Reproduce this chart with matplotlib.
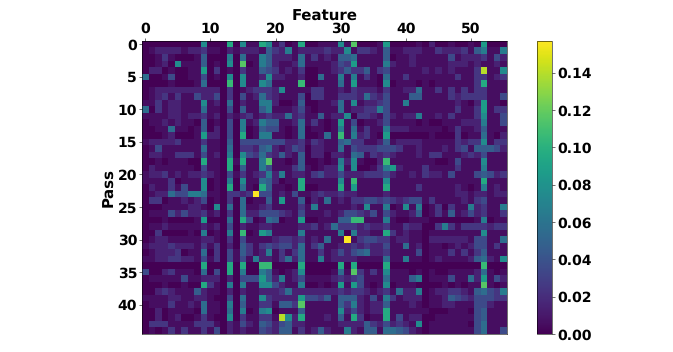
import numpy as np
import matplotlib
matplotlib.use('Agg')
import matplotlib.pyplot as plt

# one string per pass, one character per feature (base 17 index into level_values)
pass_rows = [
    "0000000008" "000a0811a8" "1301a00111" "81c0001900" "0010200100" "109000",
    "0122221223" "1102122215" "3271222232" "2813321511" "2221132223" "157117",
    "0013100015" "0007061175" "2221613121" "5561111501" "1211111412" "223142",
    "0012081115" "01080c0175" "2112611112" "4391111721" "1211111222" "121121",
    "0220100119" "0301031154" "3121300112" "3533513411" "1112121211" "13e118",
    "6001400114" "0108081128" "2211200611" "7171310611" "3111111131" "133123",
    "0000100016" "000b081186" "1111b00111" "6191110801" "1101011111" "13a111",
    "0122222222" "2203012333" "2811113311" "2132221311" "2261131313" "133111",
    "0123131142" "2403041263" "2111403311" "3332632411" "1551111323" "333114",
    "1131221118" "1206021177" "2001500112" "6181223411" "7111111121" "029110",
    "6031221116" "1104051157" "1112410111" "6122337411" "1111111131" "139133",
    "1111221223" "1202123123" "2262311512" "2803321421" "2271121311" "138114",
    "0112121105" "0104071275" "5112613101" "9140112411" "1101001112" "227114",
    "0011611015" "0204070154" "4101601101" "7161311722" "2111110131" "125111",
    "0001200019" "22040a0177" "1101600161" "b172310900" "0000100030" "116102",
    "1222231113" "1105044444" "4422313211" "5633112512" "2221111132" "338133",
    "0141111116" "1106033256" "2124302211" "6143334443" "1121112134" "155542",
    "0221133314" "1207084363" "2521502202" "2165132321" "1121331112" "324111",
    "001011100a" "110a1a117c" "1101500101" "7281002b11" "1111100141" "118111",
    "0211111104" "110a051174" "1113510122" "8180013792" "1113111131" "117111",
    "1223121223" "2104131237" "2712213422" "4222333421" "1213221411" "145423",
    "1111301118" "0107081165" "2011a11111" "81b1111811" "1111111111" "11a111",
    "0211314118" "010a0610a5" "1101a00111" "a191111a11" "1131111121" "017121",
    "0122644776" "1103323g44" "1214112322" "3221111211" "1111111122" "122122",
    "0330112124" "0103060115" "1911502161" "2133443432" "3441311112" "134111",
    "0001111221" "0806061123" "1111317111" "1121811701" "8170130311" "723117",
    "0111424223" "1203062244" "4321411121" "2443241421" "1250131512" "423113",
    "0001000019" "00060a4016" "5011900111" "55bb111710" "0111000000" "017011",
    "0112111112" "1204021122" "1111223126" "3332322311" "3220037313" "333233",
    "0030000107" "01070b0197" "1111711111" "7072211a31" "2110111111" "118111",
    "0122111112" "2103041111" "2332312161" "1g13443312" "2110222222" "144116",
    "1222322213" "1302053134" "3442613511" "2232322411" "6120110121" "244131",
    "0122230116" "0304153127" "1313611312" "4245622311" "1140111313" "135111",
    "1122332214" "1304141722" "1362611712" "2221111611" "7110121111" "256218",
    "000000000a" "000a0a00bb" "0000a00000" "a0a0000a00" "0000000000" "00b000",
    "4002311106" "040a070075" "1012800001" "61c3131811" "1010100111" "126101",
    "0111114112" "2202044495" "2712411112" "3234111611" "1570111411" "629142",
    "000100100a" "3107071188" "4211700101" "9194101801" "1100001010" "11c101",
    "0023211152" "1102021122" "2362222222" "3233212316" "2270122332" "156437",
    "1111221122" "1004061183" "2222944351" "5552141731" "2220112543" "244433",
    "0111311216" "1107051133" "1553c11111" "5372122511" "1210112211" "144211",
    "0020111106" "1106070178" "0111511111" "8242122a11" "1111000111" "045111",
    "0020120013" "1008031133" "1e82a11121" "51a3011a14" "1220011111" "145111",
    "0333111133" "3102142154" "2452211111" "2222532423" "2180111111" "046111",
    "0101313113" "1402121143" "2551312521" "1721551665" "4210111111" "146114",
]
level_values = [0.0, 0.006, 0.015, 0.025, 0.035, 0.046, 0.056, 0.066, 0.076,
                0.086, 0.096, 0.106, 0.116, 0.126, 0.14, 0.15, 0.157]
x_ticks = [0, 10, 20, 30, 40, 50]
y_ticks = [0, 5, 10, 15, 20, 25, 30, 35, 40]
cbar_ticks = [0.00, 0.02, 0.04, 0.06, 0.08, 0.10, 0.12, 0.14]
cbar_labels = ['0.00', '0.02', '0.04', '0.06', '0.08', '0.10', '0.12', '0.14']

importance = np.array([[level_values[int(ch, 17)] for ch in row] for row in pass_rows])

plt.rcParams['font.family'] = 'DejaVu Sans'
plt.rcParams['font.weight'] = 'bold'
plt.rcParams['font.size'] = 10
plt.rcParams['text.hinting'] = 'no_hinting'
plt.rcParams['text.hinting_factor'] = 1

W, H = 673.0, 352.0
fig = plt.figure(figsize=(W / 100, H / 100), dpi=100)
ax = fig.add_axes([142 / W, 1 - 334 / H, 365 / W, 293 / H])
im = ax.imshow(importance, cmap='viridis', vmin=0, vmax=0.157, aspect='auto', interpolation='nearest')

ax.xaxis.tick_top()
ax.xaxis.set_label_position('top')
ax.set_xticks(x_ticks)
ax.set_yticks(y_ticks)
ax.tick_params(length=2, width=0.4, pad=1.5)
ax.set_xlabel('Feature', fontweight='bold', fontsize=10.6, labelpad=1)
ax.set_ylabel('Pass', fontweight='bold', fontsize=10.6, labelpad=1)
for s in ax.spines.values():
    s.set_linewidth(0.4)

cax = fig.add_axes([537 / W, 1 - 334 / H, 15 / W, 293 / H])
cbar = fig.colorbar(im, cax=cax, ticks=cbar_ticks)
cbar.ax.set_yticklabels(cbar_labels)
cbar.ax.tick_params(length=2, width=0.4, pad=2)
cbar.outline.set_linewidth(0.4)

fig.savefig('out.png', dpi=100)
